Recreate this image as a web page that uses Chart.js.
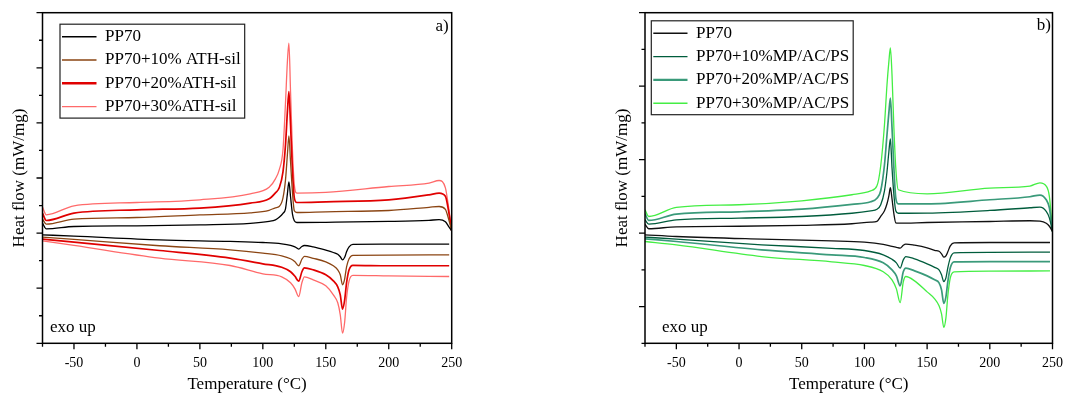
<!DOCTYPE html>
<html><head><meta charset="utf-8">
<script src="https://cdn.jsdelivr.net/npm/chart.js@4.4.1/dist/chart.umd.min.js"></script>
<style>
html,body{margin:0;padding:0;background:#fff;width:1067px;height:395px;overflow:hidden}
canvas{position:absolute;top:0}
</style>
</head><body>
<canvas id="ca" width="520" height="395" style="left:0;width:520px;height:395px"></canvas>
<canvas id="cb" width="537" height="395" style="left:530px;width:537px;height:395px"></canvas>
<script>
// ---------- data ----------
const coolT = [-75, -72, -50, 0, 50, 90, 105, 110, 113, 116, 118, 119.5, 120.7, 122, 123.5, 125, 127, 150, 200, 232, 240, 245, 247.5, 250];
const heatT = [-75, -50, 18, 74, 100, 115, 122, 125.5, 128.5, 131, 133, 140, 150, 156, 159.5, 161.5, 163.3, 165, 166.5, 168.5, 171.5, 200, 248];

const namesA = ['PP70', 'PP70+10% ATH-sil', 'PP70+20%ATH-sil', 'PP70+30%ATH-sil'];
const namesB = ['PP70', 'PP70+10%MP/AC/PS', 'PP70+20%MP/AC/PS', 'PP70+30%MP/AC/PS'];

// panel a) cooling
const aCool0  = [0.181, 0.078, 0.120, 0.132, 0.151, 0.178, 0.214, 0.241, 0.287, 0.359, 0.441, 0.713, 0.931, 0.659, 0.350, 0.223, 0.192, 0.196, 0.211, 0.232, 0.245, 0.205, 0.123, 0.042];
const aCool10 = [0.254, 0.163, 0.254, 0.283, 0.332, 0.368, 0.414, 0.459, 0.483, 0.641, 0.967, 1.421, 1.766, 1.294, 0.750, 0.405, 0.374, 0.387, 0.410, 0.468, 0.483, 0.432, 0.260, 0.042];
const aCool20 = [0.363, 0.229, 0.363, 0.423, 0.454, 0.544, 0.622, 0.731, 0.822, 1.113, 1.603, 2.201, 2.570, 1.966, 1.149, 0.641, 0.555, 0.568, 0.604, 0.695, 0.726, 0.668, 0.405, 0.042];
const aCool30 = [0.472, 0.332, 0.495, 0.555, 0.604, 0.713, 0.831, 0.985, 1.149, 1.513, 2.365, 3.109, 3.448, 2.564, 1.513, 0.877, 0.726, 0.740, 0.846, 0.907, 0.955, 0.822, 0.477, 0.042];
// panel a) heating
const aHeat0  = [-0.031, -0.054, -0.122, -0.152, -0.171, -0.194, -0.221, -0.249, -0.290, -0.243, -0.225, -0.249, -0.309, -0.352, -0.385, -0.430, -0.485, -0.439, -0.339, -0.249, -0.203, -0.200, -0.200];
const aHeat10 = [-0.073, -0.114, -0.230, -0.303, -0.363, -0.412, -0.466, -0.521, -0.593, -0.475, -0.421, -0.457, -0.521, -0.593, -0.666, -0.757, -0.938, -0.829, -0.612, -0.466, -0.403, -0.399, -0.394];
const aHeat20 = [-0.109, -0.165, -0.316, -0.454, -0.557, -0.621, -0.702, -0.784, -0.874, -0.702, -0.630, -0.666, -0.757, -0.866, -0.975, -1.120, -1.379, -1.211, -0.902, -0.666, -0.584, -0.593, -0.593];
const aHeat30 = [-0.140, -0.223, -0.454, -0.588, -0.739, -0.793, -0.902, -1.011, -1.151, -0.902, -0.793, -0.848, -0.957, -1.120, -1.265, -1.483, -1.815, -1.610, -1.174, -0.866, -0.766, -0.775, -0.788];

// panel b) cooling
const bCool0  = [0.120, 0.059, 0.086, 0.093, 0.106, 0.127, 0.150, 0.161, 0.229, 0.304, 0.399, 0.508, 0.617, 0.467, 0.263, 0.140, 0.136, 0.144, 0.158, 0.168, 0.163, 0.134, 0.093, 0.022];
const bCool10 = [0.181, 0.123, 0.181, 0.204, 0.226, 0.270, 0.304, 0.324, 0.386, 0.576, 0.835, 1.108, 1.281, 0.890, 0.522, 0.304, 0.270, 0.272, 0.308, 0.345, 0.354, 0.297, 0.208, 0.022];
const bCool20 = [0.263, 0.172, 0.259, 0.290, 0.327, 0.392, 0.426, 0.474, 0.576, 0.930, 1.339, 1.639, 1.839, 1.435, 0.890, 0.481, 0.399, 0.399, 0.454, 0.495, 0.518, 0.454, 0.345, 0.022];
const bCool30 = [0.317, 0.226, 0.349, 0.386, 0.440, 0.522, 0.576, 0.644, 0.917, 1.475, 2.020, 2.334, 2.520, 2.157, 1.435, 0.890, 0.590, 0.535, 0.613, 0.640, 0.685, 0.640, 0.499, 0.022];
// panel b) heating
const bHeat0  = [-0.023, -0.046, -0.082, -0.105, -0.123, -0.153, -0.180, -0.193, -0.204, -0.165, -0.150, -0.165, -0.200, -0.234, -0.248, -0.282, -0.327, -0.309, -0.255, -0.173, -0.132, -0.128, -0.128];
const bHeat10 = [-0.054, -0.082, -0.159, -0.207, -0.237, -0.296, -0.357, -0.405, -0.477, -0.364, -0.319, -0.350, -0.418, -0.466, -0.500, -0.568, -0.659, -0.609, -0.473, -0.337, -0.268, -0.262, -0.259];
const bHeat20 = [-0.078, -0.114, -0.228, -0.296, -0.332, -0.405, -0.500, -0.582, -0.718, -0.527, -0.477, -0.514, -0.582, -0.636, -0.677, -0.772, -0.956, -0.868, -0.663, -0.473, -0.391, -0.387, -0.387];
const bHeat30 = [-0.114, -0.159, -0.319, -0.391, -0.441, -0.527, -0.636, -0.759, -0.946, -0.663, -0.591, -0.650, -0.800, -0.895, -0.990, -1.099, -1.283, -1.154, -0.854, -0.609, -0.527, -0.518, -0.514];

const xTicksMin = -75, xTicksMax = 250, xStep = 25;

// ---------- styling ----------
const FONT = "'Liberation Serif', 'Times New Roman', serif";
Chart.defaults.font.family = FONT;
Chart.defaults.color = '#000';

const colorsA = ['#000000', '#8B4513', '#E00000', '#FF6A6A'];
const colorsB = ['#111111', '#005C3C', '#3A9A7A', '#44EE44'];
const widths = [1.3, 1.3, 1.7, 1.3];
const legendWidths = [1.4, 1.4, 2.4, 1.4];

function buildDatasets(names, colors, cool, heat) {
  const ds = [];
  names.forEach((n, i) => ds.push({
    label: n, data: coolT.map((t, k) => ({x: t, y: cool[i][k]})),
    borderColor: colors[i], borderWidth: widths[i], pointRadius: 0, fill: false,
    cubicInterpolationMode: 'monotone'
  }));
  names.forEach((n, i) => ds.push({
    label: n + ' heating', data: heatT.map((t, k) => ({x: t, y: heat[i][k]})),
    borderColor: colors[i], borderWidth: widths[i], pointRadius: 0, fill: false,
    cubicInterpolationMode: 'monotone'
  }));
  return ds;
}

const deco = {
  id: 'deco',
  afterLayout(chart, args, o) {
    const lg = chart.legend, a = chart.chartArea;
    lg.left = a.left + o.legendDx; lg.top = a.top + o.legendDy;
    lg.right = a.right; lg.bottom = a.bottom;
  },
  afterDraw(chart, args, o) {
    const {ctx, chartArea: a, scales: {x, y}} = chart;
    ctx.save();
    ctx.strokeStyle = '#000';
    ctx.lineWidth = 1.3;
    ctx.beginPath();
    x.ticks.forEach(t => {
      const px = x.getPixelForValue(t.value);
      const len = Math.abs(t.value % 50) < 1e-6 ? 6 : 3.5;
      ctx.moveTo(px, a.bottom); ctx.lineTo(px, a.bottom + len);
    });
    y.ticks.forEach(t => {
      const py = y.getPixelForValue(t.value);
      const len = Math.abs(t.value - Math.round(t.value)) < 1e-6 ? 6 : 3.5;
      ctx.moveTo(a.left, py); ctx.lineTo(a.left - len, py);
    });
    ctx.stroke();
    ctx.lineWidth = 1.5;
    ctx.strokeRect(a.left, a.top, a.right - a.left, a.bottom - a.top);

    // legend frame
    const lg = chart.legend, lo = chart.options.plugins.legend.labels;
    const p = lo.padding, fs = lo.font.size, bw = lo.boxWidth;
    ctx.font = fs + 'px ' + FONT;
    const maxW = Math.max(...o.names.map(n => ctx.measureText(n).width));
    const x0 = lg.left + p - 2, y0 = lg.top + p - 4;
    const x1 = lg.left + p + bw + fs / 2 + maxW + 4;
    const y1 = lg.top + p + o.names.length * (fs + p) - p + 3;
    ctx.lineWidth = 1.2; ctx.strokeStyle = '#222';
    ctx.strokeRect(x0, y0, x1 - x0, y1 - y0);

    // texts
    ctx.fillStyle = '#000';
    ctx.font = '17px ' + FONT;
    ctx.textBaseline = 'alphabetic';
    ctx.textAlign = 'right';
    ctx.fillText(o.tag, a.right - o.tagDx, a.top + o.tagDy);
    ctx.textAlign = 'left';
    ctx.fillText('exo up', a.left + o.exoDx, a.bottom - 11.5);
    ctx.restore();
  }
};

function makeChart(id, names, colors, cool, heat, yMin, yMax, pad, decoOpts) {
  return new Chart(document.getElementById(id), {
    type: 'line',
    data: {datasets: buildDatasets(names, colors, cool, heat)},
    plugins: [deco],
    options: {
      responsive: false, animation: false, devicePixelRatio: 1,
      layout: {padding: pad},
      plugins: {
        tooltip: {enabled: false},
        deco: Object.assign({names}, decoOpts),
        legend: {
          position: 'chartArea', align: 'start',
          labels: {
            font: {size: 17, family: FONT}, color: '#000',
            boxWidth: decoOpts.boxWidth, boxHeight: 0, padding: 6.3,
            generateLabels: () => names.map((n, i) => ({
              text: n, fillStyle: colors[i], strokeStyle: colors[i],
              lineWidth: legendWidths[i], hidden: false, datasetIndex: i, fontColor: '#000'
            }))
          }
        }
      },
      scales: {
        x: {
          type: 'linear', min: xTicksMin, max: xTicksMax,
          grid: {display: false}, border: {display: false},
          ticks: {stepSize: xStep, autoSkip: false, maxRotation: 0, minRotation: 0,
            font: {size: 14}, padding: 4, color: '#000',
            callback: v => (Math.abs(v % 50) < 1e-6 ? String(v) : '')},
          title: {display: true, text: 'Temperature (°C)', font: {size: 17, lineHeight: 1}, padding: {top: 0, bottom: 1.5}, color: '#000'},
          afterFit: s => { s.height = 51.7; }
        },
        y: {
          type: 'linear', min: yMin, max: yMax,
          grid: {display: false}, border: {display: false},
          ticks: {display: false, stepSize: 0.5},
          title: {display: true, text: 'Heat flow (mW/mg)', font: {size: 17, lineHeight: 1}, padding: {top: 11.2, bottom: 0}, color: '#000'},
          afterFit: s => { s.width = 42.5; }
        }
      }
    }
  });
}

makeChart('ca', namesA, colorsA,
  [aCool0, aCool10, aCool20, aCool30], [aHeat0, aHeat10, aHeat20, aHeat30],
  -2, 4, {left: 0, top: 12.7, right: 68.3, bottom: 0},
  {legendDx: 13.2, legendDy: 9.2, boxWidth: 34.5, tag: 'a)', tagDx: 3, tagDy: 18.5, exoDx: 7.5});

makeChart('cb', namesB, colorsB,
  [bCool0, bCool10, bCool20, bCool30], [bHeat0, bHeat10, bHeat20, bHeat30],
  -1.5, 3, {left: 72.5, top: 12.7, right: 14, bottom: 0},
  {legendDx: 2, legendDy: 5.8, boxWidth: 34.2, tag: 'b)', tagDx: 1.5, tagDy: 17.5, exoDx: 17});
</script>
</body></html>
